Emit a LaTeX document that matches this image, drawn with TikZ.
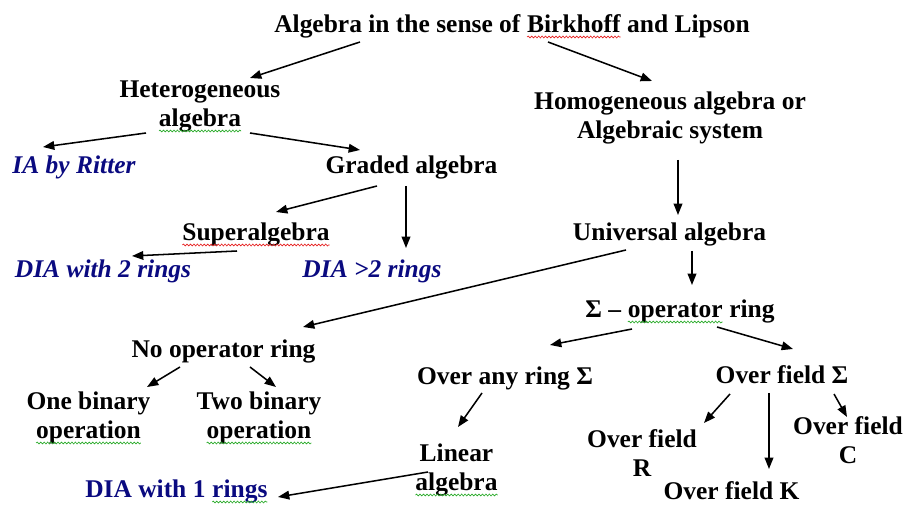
\documentclass[tikz,border=0pt]{standalone}
\usepackage{fontspec}
\setmainfont{Liberation Serif}
\usetikzlibrary{arrows.meta,calc,decorations.pathmorphing}
\definecolor{navy}{RGB}{10,10,128}
\definecolor{wavegreen}{RGB}{40,170,40}
\definecolor{wavered}{RGB}{230,30,30}
\newcommand\wv[2]{\tikz[baseline=(wvw.base)]{\node[inner sep=0pt,outer sep=0pt,anchor=base] (wvw) at (0,0) {#2};\draw[#1,line width=0.5pt,decorate,decoration={snake,amplitude=0.7pt,segment length=2.6pt}] ([yshift=-3pt]wvw.base west) -- ([yshift=-3pt]wvw.base east);}}
\begin{document}
\begin{tikzpicture}[x=0.75pt,y=-0.75pt,
  lbl/.style={font=\fontsize{19.1}{21.75}\selectfont\bfseries, inner sep=0pt, outer sep=0pt, align=center, text=black},
  blu/.style={lbl, text=navy},
  bluit/.style={lbl, text=navy, font=\fontsize{19.1}{21.75}\selectfont\bfseries\itshape},
  arr/.style={-{Triangle[length=8.5pt,width=6.5pt]}, line width=1.15pt}]
\useasboundingbox[fill=white] (0,0) rectangle (904,505);
% nodes
\node[lbl] (top) at (512,27.2) {Algebra in the sense of \wv{wavered}{Birkhoff} and Lipson\strut};
\node[lbl] (het) at (200,106.7) {Heterogeneous\strut\\\wv{wavegreen}{algebra}\strut};
\node[lbl] (hom) at (670,118.7) {Homogeneous algebra or\strut\\Algebraic system\strut};
\node[bluit] (ia) at (74,168.2) {IA by Ritter\strut};
\node[lbl] (gra) at (411.5,168.2) {Graded algebra\strut};
\node[lbl] (sup) at (256,235.2) {\wv{wavered}{Superalgebra}\strut};
\node[bluit] (dia2) at (103,272.2) {DIA with 2 rings\strut};
\node[bluit] (dia3) at (372,272.2) {DIA >2 rings\strut};
\node[lbl] (uni) at (669.5,235.2) {Universal algebra\strut};
\node[lbl] (sop) at (680,312.2) {Σ – \wv{wavegreen}{operator} ring\strut};
\node[lbl] (nop) at (223.5,352.2) {No operator ring\strut};
\node[lbl] (oar) at (505,379.2) {Over any ring Σ\strut};
\node[lbl] (ofs) at (782,378.2) {Over field Σ\strut};
\node[lbl] (one) at (88.5,418.7) {One binary\strut\\\wv{wavegreen}{operation}\strut};
\node[lbl] (two) at (259,418.7) {Two binary\strut\\\wv{wavegreen}{operation}\strut};
\node[lbl] (ofr) at (642,456.7) {Over field\strut\\R\strut};
\node[lbl] (ofc) at (848,443.7) {Over field\strut\\C\strut};
\node[lbl] (ofk) at (731.5,494.2) {Over field K\strut};
\node[lbl] (lin) at (456.5,470.7) {Linear\strut\\\wv{wavegreen}{algebra}\strut};
\node[blu] (dia1) at (176.5,492.2) {DIA with 1 \wv{wavegreen}{rings}\strut};
% connectors
\draw[arr] ($(top)+(-152,14.8)$) -- ($(het)+(50,-28.7)$);
\draw[arr] ($(top)+(36,14.8)$) -- ($(hom)+(-18,-37.7)$);
\draw[arr] ($(het)+(-54,26.3)$) -- ($(ia)+(-31,-21.2)$);
\draw[arr] ($(het)+(50,26.3)$) -- ($(gra)+(-51.5,-18.2)$);
\draw[arr] ($(gra)+(-34.5,17.8)$) -- ($(sup)+(20,-23.2)$);
\draw[arr] ($(gra)+(-5.5,17.8)$) -- ($(dia3)+(34,-24.2)$);
\draw[arr] ($(sup)+(-19,15.8)$) -- ($(dia2)+(29,-16.2)$);
\draw[arr] ($(hom)+(8,41.3)$) -- ($(uni)+(8.5,-20.2)$);
\draw[arr] ($(uni)+(-43.5,14.8)$) -- ($(nop)+(79.5,-25.2)$);
\draw[arr] ($(uni)+(22.5,15.8)$) -- ($(sop)+(12,-27.2)$);
\draw[arr] ($(sop)+(-48,16.8)$) -- ($(oar)+(45,-34.2)$);
\draw[arr] ($(sop)+(37,14.8)$) -- ($(ofs)+(11,-29.2)$);
\draw[arr] ($(nop)+(-43.5,14.8)$) -- ($(one)+(58.5,-31.7)$);
\draw[arr] ($(nop)+(26.5,14.8)$) -- ($(two)+(17,-31.7)$);
\draw[arr] ($(oar)+(-23,13.8)$) -- ($(lin)+(1.5,-43.7)$);
\draw[arr] ($(ofs)+(-52,15.8)$) -- ($(ofr)+(62,-33.7)$);
\draw[arr] ($(ofs)+(-13,14.8)$) -- ($(ofk)+(37.5,-25.2)$);
\draw[arr] ($(ofs)+(52,15.8)$) -- ($(ofc)+(-1,-26.7)$);
\draw[arr] ($(lin)+(-28.5,1.3)$) -- ($(dia1)+(101.5,4.8)$);
\end{tikzpicture}
\end{document}
